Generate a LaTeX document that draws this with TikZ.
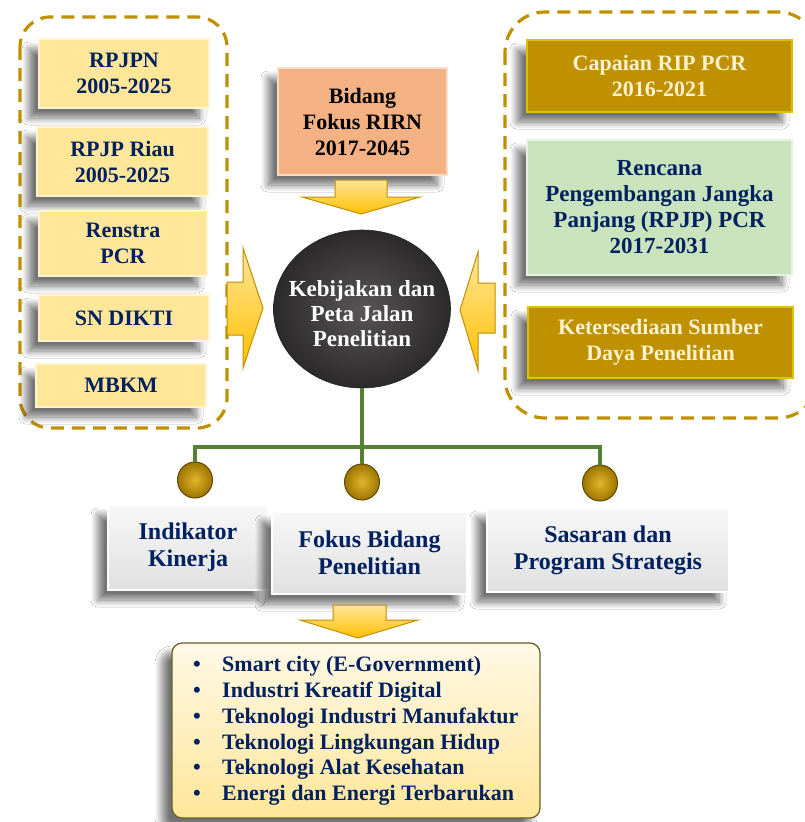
\documentclass[tikz,border=0pt]{standalone}
\usepackage{fontspec}
\setmainfont{Liberation Serif}
\usetikzlibrary{shadows.blur,shapes.geometric}
\definecolor{navy}{HTML}{002060}
\definecolor{gold}{HTML}{BF9000}
\definecolor{paleyel}{HTML}{FFE699}
\definecolor{salmon}{HTML}{F4B183}
\definecolor{palegreen}{HTML}{C9E4BD}
\definecolor{cream}{HTML}{FFF2CC}
\definecolor{lgreen}{HTML}{548235}
\definecolor{darkc}{HTML}{3A3838}
\definecolor{ayel}{HTML}{FFC000}
\definecolor{ballhi}{HTML}{E2B52A}
\definecolor{balllo}{HTML}{9C7500}
\tikzset{
  shd/.style={blur shadow={shadow xshift=-10pt, shadow yshift=-10pt, shadow opacity=55, shadow blur radius=7pt, shadow blur extra rounding=0pt, shadow blur steps=12}},
  txt/.style={align=center, font=\bfseries\fontsize{22}{26}\selectfont},
  card/.style={shd, txt, inner sep=0pt, line width=1.5pt},
  ycard/.style={card, fill=paleyel, draw=paleyel!45!white, text=navy},
  gcard/.style={card, fill=gold, draw=gold!55!yellow, text=cream},
  grcard/.style={card, fill=palegreen, draw=palegreen!45!white, text=navy},
  scard/.style={card, fill=salmon, draw=salmon!45!white, text=black},
  wcard/.style={card, top color=gray!6, bottom color=gray!24, draw=white, text=navy, font=\bfseries\fontsize{24}{27}\selectfont},
  dbox/.style={draw=gold, line width=3.2pt, dash pattern=on 13pt off 8pt, rounded corners=#1},
  gline/.style={draw=lgreen, line width=4pt},
  ball/.style={ellipse, minimum width=35pt, minimum height=36pt, inner sep=0pt, inner color=ballhi, outer color=balllo, draw=gold!50!black, line width=1pt},
  barrow/.style={draw=gold, line width=1pt, top color=ayel!40!white, bottom color=ayel}
}
\begin{document}
\begin{tikzpicture}[x=1pt,y=-1pt]
\useasboundingbox (0,0) rectangle (805,822);
\fill[white] (0,0) rectangle (805,822);

% dashed groups
\draw[dbox=30pt] (20,17) rectangle (227,428);
\draw[dbox=40pt] (505,12) rectangle (818,418);

% left cards
\node[ycard, minimum width=170pt, minimum height=69pt] (rpjpn) at (124,73.5) {RPJPN\\2005-2025};
\node[ycard, minimum width=171pt, minimum height=69pt] (riau) at (122.5,161.5) {RPJP Riau\\2005-2025};
\node[ycard, minimum width=168pt, minimum height=65pt] (renstra) at (123,243.5) {Renstra\\PCR};
\node[ycard, minimum width=170pt, minimum height=46pt] (sn) at (124,318) {SN DIKTI};
\node[ycard, minimum width=170pt, minimum height=43pt] (mbkm) at (121,385.5) {MBKM};

% top center
\node[scard, minimum width=169pt, minimum height=107pt] (rirn) at (362.5,121.5) {Bidang\\Fokus RIRN\\2017-2045};

% right cards
\node[gcard, minimum width=265pt, minimum height=72pt] (rip) at (659.5,76) {Capaian RIP PCR\\2016-2021};
\node[grcard, minimum width=265pt, minimum height=135pt, font=\bfseries\fontsize{23}{26}\selectfont] (rencana) at (659.5,207.5) {Rencana\\Pengembangan Jangka\\Panjang (RPJP) PCR\\2017-2031};
\node[gcard, minimum width=265pt, minimum height=71pt] (sumber) at (660.5,342.5) {Ketersediaan Sumber\\Daya Penelitian};

% block arrows
\draw[barrow] (335,180) -- (387,180) -- (387,197) -- (420,197) -- (361,214) -- (302,197) -- (335,197) -- cycle;
\draw[barrow] (227,282) -- (243,282) -- (243,248) -- (263,308) -- (243,368) -- (243,335) -- (227,335) -- cycle;
\draw[barrow] (495,283) -- (478,283) -- (478,252) -- (460,310) -- (478,370) -- (478,333) -- (495,333) -- cycle;

% center circle
\node[ellipse, minimum width=177pt, minimum height=158pt, inner sep=0pt,
      inner color=darkc!85!white, outer color=darkc!75!black, draw=darkc!60!black, line width=0.6pt] (core) at (362,309) {};
\node[text=white, align=center, font=\bfseries\fontsize{23}{25}\selectfont, inner sep=0pt] (coretext) at (362,314)
      {Kebijakan dan\\Peta Jalan\\Penelitian};

% connectors
\coordinate (hub) at (362,447);
\node[ball] (b1) at (195,480) {};
\node[ball] (b2) at (362,482) {};
\node[ball] (b3) at (600,483) {};
\draw[gline] (core.south) -- (hub);
\draw[gline] (b1.north) |- (hub) -| (b3.north);
\draw[gline] (hub) -- (b2.north);

% bottom cards
\node[wcard, minimum width=160pt, minimum height=85pt] (ik) at (188,547.5) {Indikator\\Kinerja};
\node[wcard, minimum width=195pt, minimum height=82pt] (fb) at (369.5,553) {Fokus Bidang\\Penelitian};
\node[wcard, minimum width=242pt, minimum height=84pt] (sp) at (608,550) {Sasaran dan\\Program Strategis};

% lower arrow
\draw[barrow] (333,605) -- (386,605) -- (386,620) -- (418,620) -- (358,638) -- (300,620) -- (333,620) -- cycle;

% list box
\node[shd, rounded corners=10pt, draw=olive!60!black, line width=1.2pt,
      top color=cream!50!white, bottom color=paleyel, minimum width=368pt, minimum height=175pt,
      inner sep=0pt] (list) at (356,730.5) {};
\node[anchor=west, align=left, text=navy, font=\bfseries\fontsize{22}{25.8}\selectfont, inner sep=0pt] (items) at (193,731)
{\makebox[29pt][l]{\textbullet}Smart city (E-Government)\\
 \makebox[29pt][l]{\textbullet}Industri Kreatif Digital\\
 \makebox[29pt][l]{\textbullet}Teknologi Industri Manufaktur\\
 \makebox[29pt][l]{\textbullet}Teknologi Lingkungan Hidup\\
 \makebox[29pt][l]{\textbullet}Teknologi Alat Kesehatan\\
 \makebox[29pt][l]{\textbullet}Energi dan Energi Terbarukan};
\end{tikzpicture}
\end{document}
